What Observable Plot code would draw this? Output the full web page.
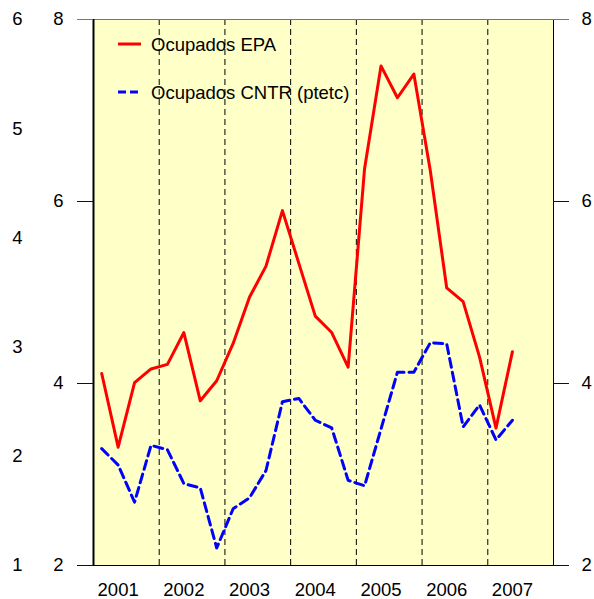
<!DOCTYPE html>
<html>
<head>
<meta charset="utf-8">
<script src="https://cdn.jsdelivr.net/npm/d3@7"></script>
<script src="https://cdn.jsdelivr.net/npm/@observablehq/plot@0.6"></script>
<style>
  html, body { margin: 0; padding: 0; background: #ffffff; }
  #chart { width: 594px; height: 599px; }
</style>
</head>
<body>
<div id="chart"></div>
<script>
// Quarterly labels (2001-I .. 2007-II)
const quarters = [
  "2001-I","2001-II","2001-III","2001-IV",
  "2002-I","2002-II","2002-III","2002-IV",
  "2003-I","2003-II","2003-III","2003-IV",
  "2004-I","2004-II","2004-III","2004-IV",
  "2005-I","2005-II","2005-III","2005-IV",
  "2006-I","2006-II","2006-III","2006-IV",
  "2007-I","2007-II"
];
// Ocupados EPA (right / inner-left axis, 2..8)
const epa = [4.11,3.30,4.01,4.16,4.21,4.56,3.81,4.03,4.44,4.95,5.29,5.90,5.32,4.74,4.56,4.18,6.36,7.49,7.14,7.40,6.34,5.05,4.90,4.29,3.51,4.35];
// Ocupados CNTR (ptetc) (outer-left axis, 1..6)
const cntr = [2.07,1.92,1.58,2.10,2.06,1.75,1.71,1.16,1.52,1.62,1.87,2.50,2.53,2.33,2.26,1.78,1.73,2.25,2.77,2.77,3.04,3.03,2.27,2.47,2.15,2.33];
// Tick labels
const yearLabels = ["2001","2002","2003","2004","2005","2006","2007"];
const mainTicks = [2,4,6,8];
const outerTicks = [1,2,3,4,5,6];
const seriesNames = ["Ocupados EPA","Ocupados CNTR (ptetc)"];

// secondary axis (1..6) mapped onto the main axis (2..8)
const toMain = v => 2 + (v - 1) * 6 / 5;
const fromMain = v => Math.round(1 + (v - 2) * 5 / 6);

const rows = quarters.map((q, i) => ({q, i, epa: epa[i], cntr: cntr[i]}));
const yearStartIdx = yearLabels.map(y => quarters.indexOf(y + "-I"));
const yearLabelIdx = yearLabels.map(y => quarters.indexOf(y + "-II"));
const boundaries = yearStartIdx.slice(1).map(i => i - 0.5);
const xDomain = [-0.5, quarters.length + 1.5];

const legendMark = (index, scales, values, dims) => {
  const g = d3.create("svg:g").attr("text-anchor", "start");
  const x0 = dims.marginLeft, y0 = dims.marginTop;
  const items = [
    {name: seriesNames[0], color: "red", dash: null, dy: 25},
    {name: seriesNames[1], color: "blue", dash: "8,4", dy: 73}
  ];
  for (const it of items) {
    g.append("line")
      .attr("x1", x0 + 25).attr("x2", x0 + 48)
      .attr("y1", y0 + it.dy).attr("y2", y0 + it.dy)
      .attr("stroke", it.color).attr("stroke-width", 3)
      .attr("stroke-dasharray", it.dash);
    g.append("text")
      .attr("x", x0 + 58).attr("y", y0 + it.dy + 6.5)
      .attr("fill", "black")
      .attr("text-anchor", "start")
      .text(it.name);
  }
  return g.node();
};

const chart = Plot.plot({
  width: 594,
  height: 599,
  marginLeft: 93,
  marginRight: 41,
  marginTop: 19,
  marginBottom: 34,
  style: {fontFamily: "'Liberation Sans', Arial, sans-serif", fontSize: "18.5px", background: "white", color: "black"},
  x: {domain: xDomain, axis: null},
  y: {domain: [2, 8], axis: null},
  marks: [
    Plot.frame({fill: "#ffffc8", stroke: null}),
    Plot.ruleX(boundaries, {stroke: "black", strokeDasharray: "6,4", strokeWidth: 1}),
    Plot.line(rows, {x: "i", y: d => toMain(d.cntr), stroke: "blue", strokeWidth: 3, strokeDasharray: "9,5"}),
    Plot.line(rows, {x: "i", y: "epa", stroke: "red", strokeWidth: 3}),
    Plot.ruleY([8], {stroke: "#777", strokeWidth: 1}),
    Plot.ruleY([2], {stroke: "black", strokeWidth: 1}),
    Plot.ruleX([xDomain[0]], {stroke: "black", strokeWidth: 2}),
    Plot.ruleX([xDomain[1]], {stroke: "black", strokeWidth: 1}),
    // outward tick lines (left and right axes)
    Plot.ruleY(mainTicks, {x1: xDomain[0], x2: xDomain[0], insetLeft: -16, stroke: d => d === 8 ? "#777" : "#111", strokeWidth: 1}),
    Plot.ruleY(mainTicks, {x1: xDomain[1], x2: xDomain[1], insetRight: -16, stroke: d => d === 8 ? "#777" : "#111", strokeWidth: 1}),
    Plot.axisY(mainTicks, {anchor: "left", tickSize: 0, tickPadding: 30, tickFormat: d => String(d), label: null}),
    Plot.axisY(mainTicks, {anchor: "right", tickSize: 0, tickPadding: 28, tickFormat: d => String(d), label: null}),
    Plot.axisY(outerTicks.map(toMain), {anchor: "left", tickSize: 0, tickPadding: 71, tickFormat: v => String(fromMain(v)), label: null}),
    Plot.axisX(yearLabelIdx, {anchor: "bottom", tickSize: 0, tickPadding: 17, tickFormat: i => quarters[i].slice(0, 4), label: null}),
    legendMark
  ]
});
document.getElementById("chart").append(chart);
</script>
</body>
</html>
